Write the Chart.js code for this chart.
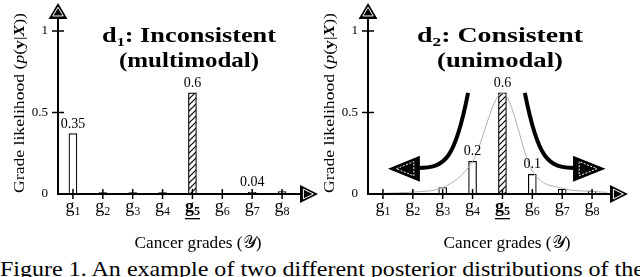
<!DOCTYPE html>
<html>
<head>
<meta charset="utf-8">
<script src="https://cdn.jsdelivr.net/npm/chart.js@4/dist/chart.umd.min.js"></script>
<style>
  html, body { margin: 0; padding: 0; background: #fff; }
  body { width: 640px; height: 277px; position: relative; overflow: hidden; }
  .panel { position: absolute; top: 0; width: 320px; height: 255px; }
  #caption {
    position: absolute; left: 0; top: 259px; white-space: nowrap;
    font: 21px/21px "Liberation Serif", "Times New Roman", "DejaVu Serif", serif; color: #000;
    transform: scaleX(1.145); transform-origin: 0 0;
  }
</style>
</head>
<body>
<div class="panel" style="left:0"><canvas id="left" width="320" height="255"></canvas></div>
<div class="panel" style="left:320px"><canvas id="right" width="320" height="255"></canvas></div>
<div id="caption">Figure 1. An example of two different posterior distributions of the</div>
<script>
const grades = [1, 2, 3, 4, 5, 6, 7, 8];
const gradeNames = ["1", "2", "3", "4", "5", "6", "7", "8"];
const yTicks = [0, 0.5, 1];
const yTickLabels = ["0", "0.5", "1"];

// d1: inconsistent
const leftValues = [0.37, 0.008, 0.008, 0.008, 0.62, 0.003, 0.01, 0.015];
const leftLabels = ["0.35", "", "", "", "0.6", "", "0.04", ""];

// d2: consistent
const rightValues = [0.004, 0.006, 0.04, 0.2, 0.62, 0.12, 0.03, 0.018];
const rightLabels = ["", "", "", "0.2", "0.6", "0.1", "", ""];
const curveX = [0.5, 1, 2, 3, 4, 5, 6, 7, 8, 8.5];
const curveY = [0.002, 0.004, 0.012, 0.04, 0.2, 0.62, 0.14, 0.035, 0.016, 0.01];

const serif = '"Liberation Serif", "Times New Roman", "DejaVu Serif", serif';

function hatch() {
  const c = document.createElement("canvas");
  c.width = 6; c.height = 6;
  const g = c.getContext("2d");
  g.fillStyle = "#fff"; g.fillRect(0, 0, 6, 6);
  g.strokeStyle = "#000"; g.lineWidth = 1.2;
  g.beginPath();
  g.moveTo(0, 6); g.lineTo(6, 0);
  g.moveTo(-3, 3); g.lineTo(3, -3);
  g.moveTo(3, 9); g.lineTo(9, 3);
  g.stroke();
  return g.createPattern(c, "repeat");
}

// black head with a thin white inner outline
function arrowHead(ctx, tx, ty, dx, dy, len, half, dashed) {
  const bx = tx - dx * len, by = ty - dy * len;
  const nx = -dy, ny = dx;
  ctx.save();
  ctx.fillStyle = "#000";
  ctx.beginPath();
  ctx.moveTo(tx, ty);
  ctx.lineTo(bx + nx * half, by + ny * half);
  ctx.lineTo(bx - nx * half, by - ny * half);
  ctx.closePath();
  ctx.fill();
  const k = 0.55, cx = tx - dx * len * 0.58, cy = ty - dy * len * 0.58;
  ctx.strokeStyle = "#fff";
  ctx.lineWidth = 1;
  if (dashed) ctx.setLineDash([2, 1.5]);
  ctx.beginPath();
  [[tx, ty], [bx + nx * half, by + ny * half], [bx - nx * half, by - ny * half]].forEach((p, i) => {
    const px = cx + (p[0] - cx) * k, py = cy + (p[1] - cy) * k;
    if (i === 0) ctx.moveTo(px, py); else ctx.lineTo(px, py);
  });
  ctx.closePath();
  ctx.stroke();
  ctx.restore();
}

function drawSub(ctx, x, y, base, sub, bold, underline) {
  const w = bold ? "bold " : "";
  ctx.font = w + "18px " + serif;
  const w1 = ctx.measureText(base).width;
  ctx.font = w + "12px " + serif;
  const w2 = ctx.measureText(sub).width;
  const x0 = x - (w1 + w2) / 2;
  ctx.textAlign = "left";
  ctx.textBaseline = "alphabetic";
  ctx.font = w + "18px " + serif;
  ctx.fillText(base, x0, y);
  ctx.font = w + "12px " + serif;
  ctx.fillText(sub, x0 + w1, y + 3);
  if (underline) {
    ctx.fillRect(x0, y + 6, w1 + w2, 1.3);
  }
}

// centred run of mixed-font text, optionally stretched to a width
function titleLine(ctx, x, y, parts, width) {
  let total = 0;
  parts.forEach(p => { ctx.font = p.f; total += ctx.measureText(p.t).width; });
  ctx.save();
  ctx.translate(x, y);
  if (width) ctx.scale(width / total, 1);
  let cx = -total / 2;
  ctx.textAlign = "left";
  parts.forEach(p => {
    ctx.font = p.f;
    ctx.fillText(p.t, cx, p.dy || 0);
    cx += ctx.measureText(p.t).width;
  });
  ctx.restore();
}

const deco = {
  id: "deco",
  afterDraw(chart, args, o) {
    const ctx = chart.ctx;
    const { left, right, top } = chart.chartArea;
    const xs = chart.scales.x, ys = chart.scales.y;
    const y0 = ys.getPixelForValue(0);
    ctx.save();
    ctx.fillStyle = "#000";
    ctx.strokeStyle = "#000";

    // axes
    ctx.lineWidth = 2;
    ctx.beginPath();
    ctx.moveTo(left, y0); ctx.lineTo(left, top - 14);
    ctx.moveTo(left - 1, y0); ctx.lineTo(right + 5, y0);
    ctx.stroke();
    arrowHead(ctx, left, top - 28, 0, -1, 16, 9.5, false);
    arrowHead(ctx, right + 21, y0, 1, 0, 18, 9, false);

    // y ticks
    ctx.lineWidth = 1.5;
    ctx.font = "13px " + serif;
    ctx.textAlign = "right";
    ctx.textBaseline = "middle";
    yTicks.forEach((v, i) => {
      const py = ys.getPixelForValue(v);
      if (v > 0) {
        ctx.beginPath(); ctx.moveTo(left - 6, py); ctx.lineTo(left + 6, py); ctx.stroke();
      }
      ctx.fillText(yTickLabels[i], left - 10, py);
    });

    // x ticks and grade labels
    grades.forEach((g, i) => {
      const px = xs.getPixelForValue(g);
      ctx.beginPath(); ctx.moveTo(px, y0 - 5); ctx.lineTo(px, y0 + 5); ctx.stroke();
      drawSub(ctx, px, 212, "g", gradeNames[i], i === 4, i === 4);
    });

    // value labels
    ctx.font = "14px " + serif;
    ctx.textAlign = "center";
    ctx.textBaseline = "alphabetic";
    o.labels.forEach((t, i) => {
      if (!t) return;
      ctx.fillText(t, xs.getPixelForValue(grades[i]), ys.getPixelForValue(o.values[i]) - 6);
    });

    // titles
    const bf = "bold 21px " + serif, bs = "bold 13px " + serif;
    titleLine(ctx, o.titleX, 42, [{ t: "d", f: bf }, { t: o.sub, f: bs, dy: 4 }, { t: ": " + o.title1, f: bf }], o.w1);
    titleLine(ctx, o.titleX, 67, [{ t: o.title2, f: bf }], o.w2);

    // y title
    ctx.save();
    ctx.translate(left - 38, 103);
    ctx.rotate(-Math.PI / 2);
    ctx.textBaseline = "middle";
    const nf = "15px " + serif;
    titleLine(ctx, 0, 0, [
      { t: "Grade likelihood (", f: nf }, { t: "p", f: "italic 15px " + serif },
      { t: "(", f: nf }, { t: "y", f: "bold 15px " + serif }, { t: "|", f: nf },
      { t: "X", f: "bold italic 15px " + serif }, { t: "))", f: nf }
    ], 180);
    ctx.restore();

    // x title
    ctx.textBaseline = "alphabetic";
    titleLine(ctx, left + o.xTitleDx, 248, [
      { t: "Cancer grades (", f: "17px " + serif },
      { t: "\u{1D4B4}", f: "17px " + serif }, { t: ")", f: "17px " + serif }
    ], 127);

    // spreading arrows
    if (o.arrows) {
      const P = (x, y) => [xs.getPixelForValue(x), ys.getPixelForValue(y)];
      o.arrows.forEach(a => {
        const p = a.map(q => P(q[0], q[1]));
        ctx.lineWidth = 4;
        ctx.lineCap = "butt";
        ctx.beginPath();
        ctx.moveTo(p[0][0], p[0][1]);
        ctx.bezierCurveTo(p[1][0], p[1][1], p[2][0], p[2][1], p[3][0], p[3][1]);
        ctx.stroke();
        const dir = Math.sign(p[4][0] - p[3][0]);
        arrowHead(ctx, p[4][0], p[4][1], dir, 0, Math.abs(p[4][0] - p[3][0]) + 2, 13, true);
      });
    }
    ctx.restore();
  }
};

function barData(values, hatchIdx) {
  return {
    type: "bar",
    data: values.map((v, i) => ({ x: grades[i], y: v })),
    backgroundColor: values.map((v, i) => (i === hatchIdx ? hatch() : "#fff")),
    borderColor: "#000",
    borderWidth: 1.2,
    borderSkipped: false,
    barThickness: 8,
    order: 1
  };
}

function makeChart(id, datasets, pad, opts) {
  return new Chart(document.getElementById(id), {
    type: "bar",
    data: { datasets },
    options: {
      responsive: false,
      animation: false,
      layout: { padding: pad },
      plugins: { legend: { display: false }, tooltip: { enabled: false }, deco: opts },
      scales: {
        x: { type: "linear", min: 0.5, max: 8.5, offset: false, display: false },
        y: { min: 0, max: 1, display: false }
      }
    },
    plugins: [deco]
  });
}

makeChart("left", [barData(leftValues, 4)],
  { left: 58, right: 23, top: 31, bottom: 61 },
  { values: leftValues, labels: leftLabels, sub: "1", title1: "Inconsistent", title2: "(multimodal)",
    titleX: 189, w1: 174, w2: 140, xTitleDx: 140 });

makeChart("right", [
  {
    type: "line",
    data: curveX.map((x, i) => ({ x, y: curveY[i] })),
    borderColor: "#b0b0b0",
    borderWidth: 1,
    pointRadius: 0,
    cubicInterpolationMode: "monotone",
    order: 0
  },
  barData(rightValues, 4)
],
  { left: 48, right: 33, top: 31, bottom: 61 },
  {
    values: rightValues, labels: rightLabels, sub: "2", title1: "Consistent", title2: "(unimodal)",
    titleX: 180, w1: 166, w2: 126, xTitleDx: 139,
    arrows: [
      [[3.85, 0.62], [3.41, 0.21], [3.08, 0.16], [2.17, 0.16], [1.17, 0.155]],
      [[5.75, 0.62], [6.19, 0.21], [6.53, 0.16], [7.43, 0.16], [8.45, 0.155]]
    ]
  });
</script>
</body>
</html>
